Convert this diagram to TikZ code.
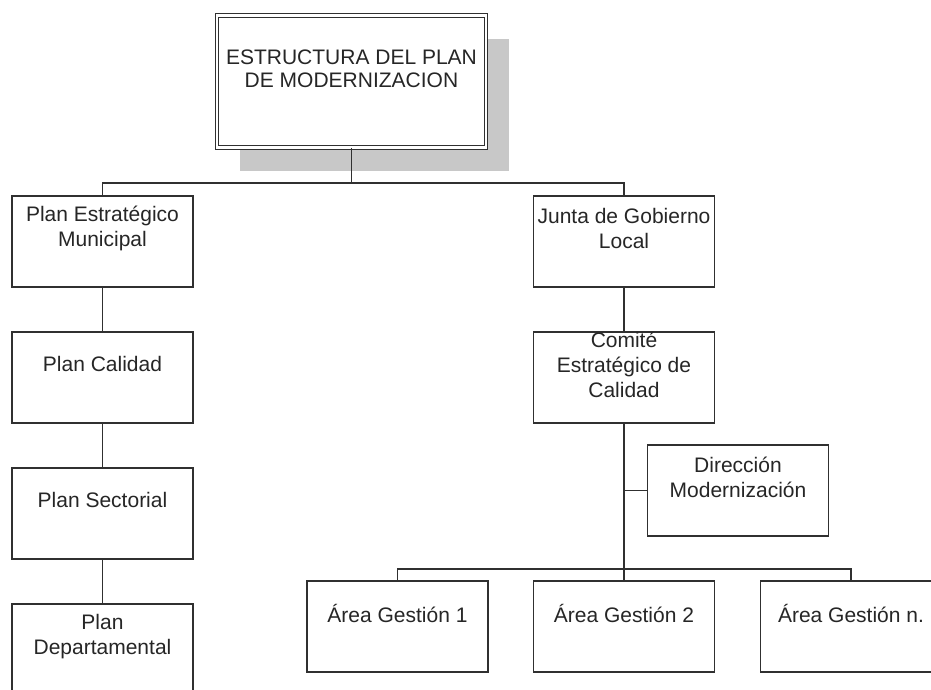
\documentclass[tikz,border=0pt]{standalone}
\usepackage{fontspec}
\setmainfont{Liberation Sans}
\usetikzlibrary{shadows}
\definecolor{linegray}{HTML}{303030}
\definecolor{shadowgray}{HTML}{C8C8C8}
\def\boxW{181pt}
\def\boxH{91pt}
\newcommand\orgtext[1]{\parbox[c][\boxH][c]{\boxW}{\centering #1\par\vskip 26pt}}

\begin{document}
\begin{tikzpicture}[
    x=1pt, y=-1pt,
    font=\fontsize{21}{25}\selectfont,
    orgbox/.style={
      draw=linegray, line width=1.8pt, fill=white,
      inner sep=0pt, anchor=north, text=black!85
    },
    headbox/.style={
      orgbox, double=white, double distance=2.2pt, line width=1.1pt,
      drop shadow={shadow xshift=23pt, shadow yshift=-23pt,
                   fill=shadowgray, opacity=1}
    },
    link/.style={
      draw=linegray, line width=1.8pt
    }
  ]
    \useasboundingbox (0,0) rectangle (931,689);
    \clip (0,0) rectangle (931,689);

    \node[headbox] (Top) at (351.5,15) {
      \parbox[c][132pt][c]{269pt}{\centering\fontsize{21}{23}\selectfont
        ESTRUCTURA DEL PLAN\\ DE MODERNIZACION\par\vskip 25pt} };

    \node[orgbox] (PlanEst) at (102.5,195) { \orgtext{Plan Estratégico\\ Municipal} };
    \node[orgbox] (PlanCal) at (102.5,331) { \orgtext{Plan Calidad} };
    \node[orgbox] (PlanSec) at (102.5,467) { \orgtext{Plan Sectorial} };
    \node[orgbox] (PlanDep) at (102.5,603) { \orgtext{Plan\\ Departamental} };

    \node[orgbox] (Junta)  at (624,195) { \orgtext{Junta de Gobierno\\ Local} };
    \node[orgbox] (Comite) at (624,331) { \orgtext{Comité\\ Estratégico de\\ Calidad} };
    \node[orgbox] (DirMod) at (738,444) { \orgtext{Dirección\\ Modernización} };

    \node[orgbox] (AreaA) at (397.5,580) { \orgtext{Área Gestión 1} };
    \node[orgbox] (AreaB) at (624,580)   { \orgtext{Área Gestión 2} };
    \node[orgbox] (AreaN) at (851,580)   { \orgtext{Área Gestión n.} };

    \coordinate (TopBus)  at (0,183);
    \coordinate (AreaBus) at (0,569);

    \draw[link] (Top.south) -- (Top.south |- TopBus);
    \draw[link] (PlanEst.north) -- (PlanEst.north |- TopBus) -| (Junta.north);
    \draw[link] (PlanEst) -- (PlanCal);
    \draw[link] (PlanCal) -- (PlanSec);
    \draw[link] (PlanSec) -- (PlanDep);

    \draw[link] (Junta) -- (Comite);
    \draw[link] (Comite.south) -- (AreaB.north);
    \draw[link] (DirMod.west) -- (DirMod.west -| Comite.south);
    \draw[link] (AreaA.north) -- (AreaA.north |- AreaBus) -| (AreaN.north);
  \end{tikzpicture}
\end{document}
